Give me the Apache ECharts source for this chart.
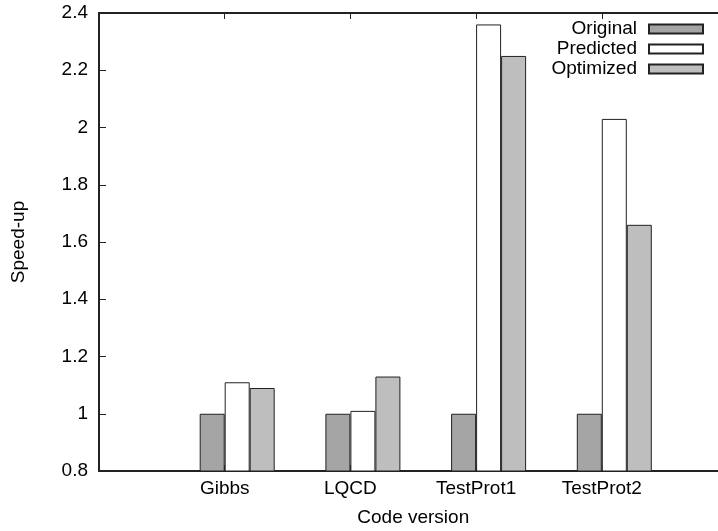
<!DOCTYPE html>
<html>
<head>
<meta charset="utf-8">
<script src="https://cdn.jsdelivr.net/npm/echarts@6/dist/echarts.min.js"></script>
<style>
    html, body { margin: 0; padding: 0; background: #fff; overflow: hidden; }
    #chart { width: 718px; height: 531px; }
</style>
</head>
<body>
<div id="chart"></div>
<script>
// first and last slots are empty, like the gnuplot x range
var categories = ['', 'Gibbs', 'LQCD', 'TestProt1', 'TestProt2', ''];
var original = [null, 1.00, 1.00, 1.00, 1.00, null];
var predicted = [null, 1.11, 1.01, 2.36, 2.03, null];
var optimized = [null, 1.09, 1.13, 2.25, 1.66, null];
var yTicks = { min: 0.8, max: 2.4, step: 0.2 };

var FONT = 'Liberation Sans, Arial, sans-serif';
var FS = 19;
var INK = '#222';

function barSeries(name, data, color) {
    return {
        name: name,
        type: 'bar',
        barWidth: 25,
        barGap: '0%',
        data: data,
        itemStyle: {
            color: color,
            borderColor: INK,
            borderWidth: 1
        }
    };
}

function makeOption() {
    var axisLine = { show: true, lineStyle: { color: INK, width: 2 } };
    var option = {
        animation: false,
        textStyle: { fontFamily: FONT, color: '#000' },
        // plot runs past the right edge of the picture, as in the original
        grid: { left: 99, right: -9.5, top: 13, bottom: 60, outerBoundsMode: 'none', containLabel: false },
        legend: {
            data: ['Original', 'Predicted', 'Optimized'],
            orient: 'vertical',
            align: 'right',
            icon: 'rect',
            right: 14,
            top: 19,
            padding: 0,
            itemGap: 0,
            itemWidth: 54,
            itemHeight: 9,
            textStyle: { fontSize: FS, lineHeight: 20, color: '#000', padding: [0, 7, 0, 0] }
        },
        xAxis: [{
            type: 'category',
            data: categories,
            boundaryGap: false,
            position: 'bottom',
            name: 'Code version',
            nameLocation: 'middle',
            nameGap: 37,
            nameTextStyle: { fontSize: FS },
            axisLine: axisLine,
            axisTick: { show: true, inside: true, length: 6, lineStyle: { color: INK } },
            axisLabel: { interval: 0, fontSize: FS, margin: 8, color: '#000' },
            splitLine: { show: false }
        }, {
            // mirror border on top with ticks, as gnuplot does
            type: 'category',
            data: categories,
            boundaryGap: false,
            position: 'top',
            axisLine: axisLine,
            axisTick: { show: true, inside: true, length: 6, interval: 0, lineStyle: { color: INK } },
            axisLabel: { show: false },
            splitLine: { show: false }
        }],
        yAxis: {
            type: 'value',
            min: yTicks.min,
            max: yTicks.max,
            interval: yTicks.step,
            name: 'Speed-up',
            nameLocation: 'middle',
            nameGap: 71,
            nameTextStyle: { fontSize: FS },
            axisLine: axisLine,
            axisTick: { show: true, inside: true, length: 7, lineStyle: { color: INK } },
            axisLabel: { fontSize: FS, margin: 11, color: '#000' },
            splitLine: { show: false }
        },
        series: [
            // empty slot so the group sits like gnuplot's (label at left edge of 2nd bar)
            { name: 'pad', type: 'bar', barWidth: 25, barGap: '0%', data: categories.map(function () { return null; }) },
            barSeries('Original', original, '#a5a5a5'),
            barSeries('Predicted', predicted, '#ffffff'),
            barSeries('Optimized', optimized, '#bebebe')
        ]
    };
    return option;
}

var myChart = echarts.init(document.getElementById('chart'));
myChart.setOption(makeOption());
</script>
</body>
</html>
